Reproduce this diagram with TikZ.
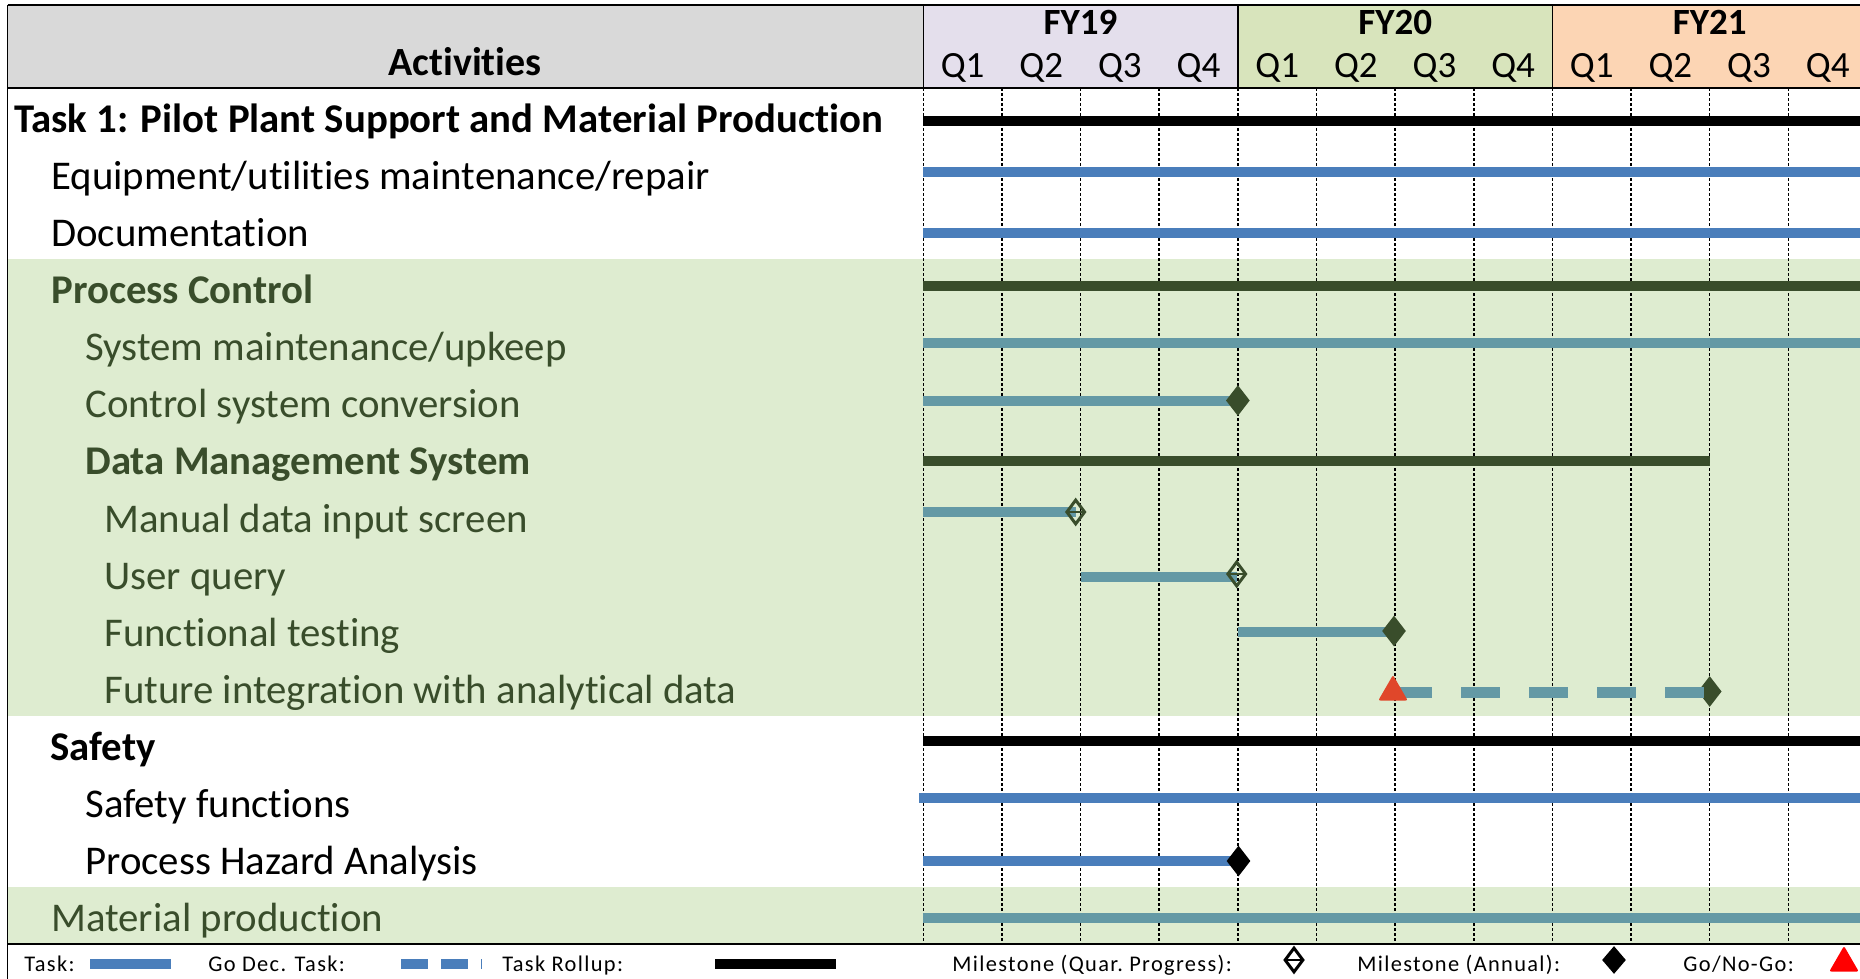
\documentclass[tikz,border=0pt]{standalone}
\usepackage{fontspec}
\setmainfont{Carlito}[Ligatures=NoCommon]
\newfontfamily\legendfont{Carlito}[LetterSpace=6,Ligatures=NoCommon]
\usepackage{xcolor}
\usetikzlibrary{shapes.geometric}

\definecolor{hdrgray}{HTML}{D9D9D9}
\definecolor{fyA}{HTML}{E4DFEC}
\definecolor{fyB}{HTML}{D8E4BC}
\definecolor{fyC}{HTML}{FCD5B4}
\definecolor{band}{HTML}{DEECD0}
\definecolor{dkgreen}{HTML}{394D2B}
\definecolor{taskblue}{HTML}{4A7EBB}
\definecolor{taskteal}{HTML}{6499A5}
\definecolor{gored}{HTML}{E0472A}

\newcommand{\rowc}[1]{88+57.07*(#1+0.5)}
\newcommand{\qx}[1]{923.3+78.64*(#1)}

\begin{document}
\begin{tikzpicture}[
        x=0.5pt, y=-0.5pt,
        hdr/.style={anchor=base, inner sep=0pt, font=\fontsize{18.5}{22}\selectfont},
        acthead/.style={anchor=base west, inner sep=0pt, font=\fontsize{20.4}{24}\selectfont\bfseries},
        actitem/.style={anchor=base west, inner sep=0pt, font=\fontsize{20.4}{24}\selectfont},
        pchead/.style={acthead, text=dkgreen},
        pcitem/.style={actitem, text=dkgreen},
        legend/.style={anchor=base west, inner sep=0pt, font=\legendfont\fontsize{11.2}{13}\selectfont},
        bar/.style={line width=5pt},
        rollup/.style={bar, black},
        pcrollup/.style={bar, dkgreen},
        task/.style={bar, taskblue},
        pctask/.style={bar, taskteal},
        godec/.style={line width=5.3pt, taskteal, dash pattern=on 19.5pt off 14.5pt},
        annual/.style={diamond, fill=dkgreen, inner sep=0pt, minimum width=12pt, minimum height=15.5pt},
        quar/.style={diamond, draw=dkgreen, line width=1.5pt, inner sep=0pt, minimum width=9.5pt, minimum height=12.5pt,
            path picture={\draw[dkgreen, line width=1.4pt] (path picture bounding box.west) -- (path picture bounding box.east);}},
        gonogo/.style={regular polygon, regular polygon sides=3, fill=gored, inner sep=0pt, minimum size=17pt, rounded corners=1pt},
        qline/.style={line width=0.75pt, dash pattern=on 1.5pt off 1pt}
    ]
        \useasboundingbox (0,0) rectangle (1860,979);
        \fill[white] (0,0) rectangle (1860,979);

        \fill[band] (7.5,{88+57.07*3}) rectangle (1860,{88+57.07*11});
        \fill[band] (7.5,{88+57.07*14}) rectangle (1860,944.3);

        \fill[hdrgray] (7.5,5) rectangle ({\qx{0}},88);
        \fill[fyA] ({\qx{0}},5) rectangle ({\qx{4}},88);
        \fill[fyB] ({\qx{4}},5) rectangle ({\qx{8}},88);
        \fill[fyC] ({\qx{8}},5) rectangle (1860,88);

        \node[hdr, font=\fontsize{20}{24}\selectfont\bfseries] (hdract) at (465,76) {Activities};
        \foreach \y [count=\n from 0] in {19,20,21} {
            \node[hdr, font=\fontsize{18.5}{22}\selectfont\bfseries] (fy\y) at ({\qx{4*\n+2}},35) {FY\y};
            \foreach \q in {1,...,4}
                \node[hdr] (q\y\q) at ({\qx{4*\n+\q-0.5}},77.7) {Q\q};
        }

        \foreach \k in {0,...,11}
            \draw[qline] ({\qx{\k}},88) -- ({\qx{\k}},944.3);

        \draw[line width=1pt] (7.5,5) -- (1860,5);
        \draw[line width=1pt] (7.5,88) -- (1860,88);
        \draw[line width=1pt] (7.5,944.3) -- (1860,944.3);
        \draw[line width=0.75pt] (7.5,5) -- (7.5,979);
        \foreach \k in {0,4,8}
            \draw[line width=0.75pt] ({\qx{\k}},5) -- ({\qx{\k}},88);

        \foreach \i/\ind/\sty/\txt in {
            0/14/acthead/{Task 1: Pilot Plant Support and Material Production},
            1/51/actitem/{Equipment/utilities maintenance/repair},
            2/51/actitem/{Documentation},
            3/51/pchead/{Process Control},
            4/85/pcitem/{System maintenance/upkeep},
            5/85/pcitem/{Control system conversion},
            6/85/pchead/{Data Management System},
            7/104/pcitem/{Manual data input screen},
            8/104/pcitem/{User query},
            9/104/pcitem/{Functional testing},
            10/104/pcitem/{Future integration with analytical data},
            11/50/acthead/{Safety},
            12/85/actitem/{Safety functions},
            13/85/actitem/{Process Hazard Analysis},
            14/51/pcitem/{Material production}}
            \node[\sty] (act\i) at (\ind,{\rowc{\i}+16}) {\txt};

        \foreach \i/\by in {0/121,1/172,2/233.5,3/286,4/343,5/400.5,6/461,7/512,
                            8/577,9/632,10/692.5,11/741,12/798,13/861,14/918} {
            \coordinate (s\i) at ({\qx{0}},\by);
            \coordinate (e\i) at (1860,\by);
        }

        \draw[rollup] (s0) -- (e0);
        \draw[task] (s1) -- (e1);
        \draw[task] (s2) -- (e2);
        \draw[pcrollup] (s3) -- (e3);
        \draw[pctask] (s4) -- (e4);

        \coordinate (m5) at ({\qx{4}},400.5);
        \draw[pctask] (s5) -- (m5);
        \node[annual] (ms5) at (m5) {};

        \coordinate (m6) at ({\qx{10}},461);
        \draw[pcrollup] (s6) -- (m6);

        \coordinate (m7) at (1075.7,512);
        \draw[pctask] (s7) -- (m7);
        \node[quar] (ms7) at (m7) {};

        \coordinate (b8) at ({\qx{2}},577);
        \coordinate (m8) at (1236.7,574);
        \draw[pctask] (b8) -- (b8 -| m8);
        \node[quar] (ms8) at (m8) {};

        \coordinate (b9) at ({\qx{4}},632);
        \coordinate (m9) at (1394,631);
        \draw[pctask] (b9) -- (b9 -| m9);
        \node[annual] (ms9) at (m9) {};

        \coordinate (b10) at (1393,692.5);
        \node[annual] (ms10) at ({\qx{10}},691.5) {};
        \draw[godec] (b10) -- (b10 -| ms10.center);
        \node[gonogo] (gng10) at (1393,692) {};

        \draw[rollup] (s11) -- (e11);
        \draw[task] (919,798) coordinate (b12) -- (e12);

        \coordinate (m13) at (1238.5,861);
        \draw[task] (s13) -- (m13);
        \node[annual, fill=black] (ms13) at (m13) {};

        \draw[pctask] (s14) -- (e14);

        \node[legend] (lgtask) at (24,971.7) {Task:};
        \coordinate (lgtaskA) at (90,964);
        \coordinate (lgtaskB) at (170.7,964);
        \draw[task] (lgtaskA) -- (lgtaskB);

        \node[legend] (lggo) at (208,971.7) {Go Dec. Task:};
        \coordinate (lggoA) at (401,964);
        \coordinate (lggoB) at (481.5,964);
        \draw[taskblue, line width=5pt, dash pattern=on 13.25pt off 6.75pt] (lggoA) -- (lggoB);

        \node[legend] (lgroll) at (502,971.7) {Task Rollup:};
        \coordinate (lgrollA) at (715,964);
        \coordinate (lgrollB) at (835.6,964);
        \draw[rollup] (lgrollA) -- (lgrollB);

        \node[legend] (lgquar) at (952,971.7) {Milestone (Quar.\ Progress):};
        \node[quar, draw=black, path picture={\draw[black, line width=1.4pt] (path picture bounding box.west) -- (path picture bounding box.east);}] (lgquarms) at (1294,960) {};

        \node[legend] (lgann) at (1357,971.7) {Milestone (Annual):};
        \node[annual, fill=black, minimum width=12pt, minimum height=14pt] (lgannms) at (1614,960) {};

        \node[legend] (lggng) at (1683,971.7) {Go/No-Go:};
        \node[gonogo, fill=red] (lggngms) at (1844,963) {};
    \end{tikzpicture}
\end{document}
